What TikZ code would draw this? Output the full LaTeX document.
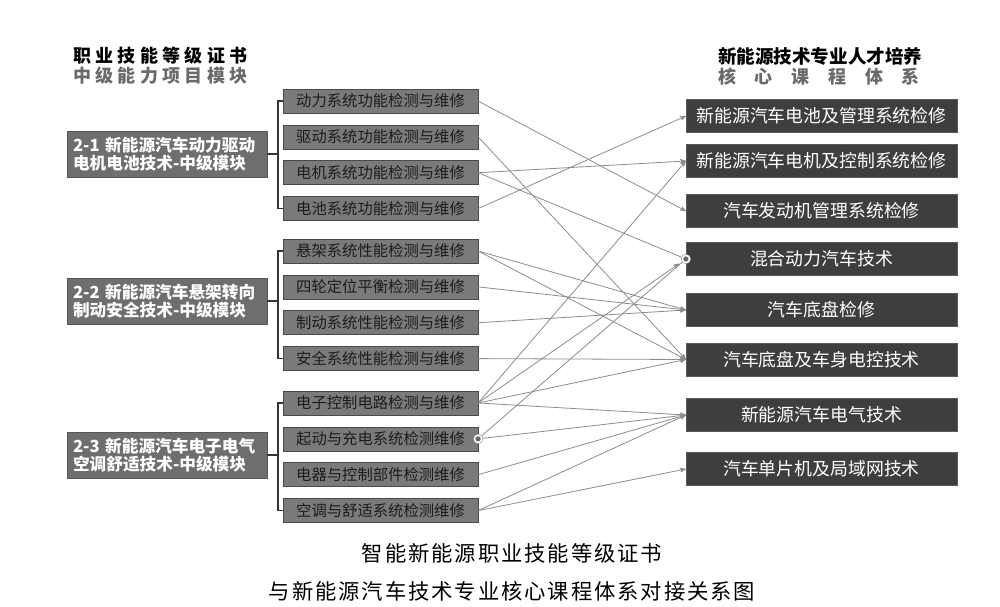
\documentclass[tikz,border=0pt]{standalone}
\usepackage{fontspec}
\setmainfont{Noto Sans CJK SC}
\usetikzlibrary{positioning, arrows}
\definecolor{modgray}{HTML}{6E6E6E}
\definecolor{itemgray}{HTML}{7A7A7A}
\definecolor{itemedge}{HTML}{4A4A4A}
\definecolor{itemtext}{HTML}{1C1C1C}
\definecolor{coursegray}{HTML}{3E3E3E}
\definecolor{courseedge}{HTML}{5A5A5A}
\definecolor{linegray}{HTML}{8C8C8C}
\definecolor{headgray}{HTML}{6A6A6A}
\tikzset {
    >=stealth',
    node distance=8.5pt,
    head/.style={anchor=west, inner sep=0pt, font=\bfseries\fontsize{13.5}{14}\selectfont},
    module/.style={fill=modgray, draw=modgray!80!black, text=white, minimum width=150pt, minimum height=28.5pt,
        inner sep=4.5pt, text width=141pt, align=left, font=\bfseries\fontsize{12.5}{13.5}\selectfont},
    item/.style={fill=itemgray, draw=itemedge, text=itemtext, minimum width=146pt, minimum height=18pt,
        inner sep=0pt, font=\fontsize{11.5}{12}\selectfont},
    course/.style={fill=coursegray, draw=courseedge, text=white, minimum width=203pt, minimum height=24.5pt,
        inner sep=0pt, font=\fontsize{13.4}{14}\selectfont},
    bracket/.style={draw=black!80, line width=1pt},
    link/.style={->, draw=linegray, line width=0.6pt},
    ring/.style={circle, draw=linegray, double=white, double distance=1.1pt, fill=black!60, minimum size=5.5pt, inner sep=0pt},
    caption/.style={font=\fontsize{16}{18}\selectfont\addfontfeatures{LetterSpace=9}}
}
\begin{document}
\begin{tikzpicture}[x=0.75pt, y=-0.75pt]
\useasboundingbox (0,0) rectangle (1000,607);

% headers
\node[head] (lhead1) at (73,56) {\addfontfeatures{LetterSpace=24}职业技能等级证书};
\node[head, text=headgray] (lhead2) at (73,76) {\addfontfeatures{LetterSpace=24}中级能力项目模块};
\node[head, font=\bfseries\fontsize{13.9}{14}\selectfont] (rhead1) at (718,56) {新能源技术专业人才培养};
\node[head, text=headgray] (rhead2) at (718,77) {\addfontfeatures{LetterSpace=104}核心课程体系};

% certificate modules
\node[module] (mod1) at (167,154) {2-1~新能源汽车动力驱动\\电机电池技术-中级模块};
\node[module] (mod2) at (167,301) {2-2~新能源汽车悬架转向\\制动安全技术-中级模块};
\node[module] (mod3) at (167,455) {2-3~新能源汽车电子电气\\空调舒适技术-中级模块};

% project items
\node[item] (m1) at (380.5,101) {动力系统功能检测与维修};
\node[item, below=of m1] (m2) {驱动系统功能检测与维修};
\node[item, below=of m2] (m3) {电机系统功能检测与维修};
\node[item, below=of m3] (m4) {电池系统功能检测与维修};
\node[item] (m5) at (380.5,251) {悬架系统性能检测与维修};
\node[item, below=of m5] (m6) {四轮定位平衡检测与维修};
\node[item, below=of m6] (m7) {制动系统性能检测与维修};
\node[item, below=of m7] (m8) {安全系统性能检测与维修};
\node[item] (m9) at (380.5,403) {电子控制电路检测与维修};
\node[item, below=of m9] (m10) {起动与充电系统检测维修};
\node[item, below=of m10] (m11) {电器与控制部件检测维修};
\node[item, below=of m11] (m12) {空调与舒适系统检测维修};

% core courses
\node[course] (r1) at (821.5,116) {新能源汽车电池及管理系统检修};
\node[course] (r2) at (821.5,161) {新能源汽车电机及控制系统检修};
\node[course] (r3) at (821.5,211) {汽车发动机管理系统检修};
\node[course] (r4) at (821.5,259) {混合动力汽车技术};
\node[course] (r5) at (821.5,310) {汽车底盘检修};
\node[course] (r6) at (821.5,359.5) {汽车底盘及车身电控技术};
\node[course] (r7) at (821.5,415) {新能源汽车电气技术};
\node[course] (r8) at (821.5,469) {汽车单片机及局域网技术};

% brackets
\foreach \g/\a/\b in {mod1/m1/m4, mod2/m5/m8, mod3/m9/m12} {
    \draw[bracket] (\a.west) -- ++(-5,0) |- (\b.west);
    \draw[bracket] (\g.east) -- ++(11,0);
}

% links
\foreach \s/\t in {m1/r3, m2/r6, m3/r2, m4/r1, m5/r5, m5/r6, m6/r5, m7/r5, m8/r6,
                   m9/r2, m9/r6, m9/r7, m10/r7, m11/r7, m12/r7, m12/r8}
    \draw[link] (\s.east) -- (\t.west);
\draw[link, shorten >=6pt] (m9.east) -- (r4.west);
\draw[link, -] (m3.east) -- (r4.west);
\draw[link, -] (m10.east) -- (r4.west);
\node[ring] (hub1) at (r4.west) {};
\node[ring] (hub2) at (m10.east) {};

% caption
\node[caption] (cap1) at (512,553) {智能新能源职业技能等级证书};
\node[caption] (cap2) at (512,591) {与新能源汽车技术专业核心课程体系对接关系图};
\end{tikzpicture}
\end{document}
